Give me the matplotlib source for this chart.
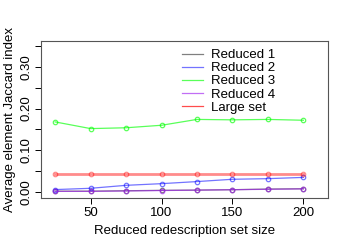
import numpy as np
import matplotlib
matplotlib.use("Agg")
import matplotlib.pyplot as plt

plt.rcParams['font.family'] = ['Liberation Sans', 'DejaVu Sans']

sizes = [25, 50, 75, 100, 125, 150, 175, 200]
reduced1 = [0.002, 0.002, 0.003, 0.004, 0.0045, 0.0055, 0.007, 0.0078]
reduced2 = [0.0058, 0.0089, 0.016, 0.020, 0.025, 0.0305, 0.032, 0.035]
reduced3 = [0.168, 0.152, 0.154, 0.160, 0.174, 0.173, 0.174, 0.172]
reduced4 = [0.0015, 0.0015, 0.0025, 0.0035, 0.0045, 0.0055, 0.0065, 0.0075]
large_set = [0.0425, 0.0425, 0.0425, 0.0425, 0.0425, 0.0425, 0.0425, 0.0425]

series = [
    ("Reduced 1", reduced1, (0, 0, 0, 0.5), 0.9),
    ("Reduced 2", reduced2, (0, 0, 1, 0.55), 0.9),
    ("Reduced 3", reduced3, (0, 1, 0, 0.65), 0.9),
    ("Reduced 4", reduced4, (0.63, 0.13, 0.94, 0.65), 0.9),
    ("Large set", large_set, (1, 0, 0, 0.45), 2.0),
]

fig = plt.figure(figsize=(3.49, 2.49), dpi=100)
ax = fig.add_axes([41/349, 1-198.3/249, (328.3-41)/349, (198.3-41)/249])

for name, vals, col, lw in series:
    ax.plot(sizes, vals, color=col, lw=lw, marker='o', ms=3.2,
            mfc='none', mec=col, mew=0.9, label=name)

ax.set_xlim(15, 217.6)
ax.set_ylim(-0.0151, 0.362)
ax.set_xticks([50, 100, 150, 200])
ax.set_yticks(np.arange(0, 0.351, 0.05))
ax.set_yticklabels(['0.00', '', '0.10', '', '0.20', '', '0.30', ''],
                   rotation=90, va='center')
ax.tick_params(direction='out', length=4.3, width=0.7, labelsize=9.5,
               colors='black', pad=2)
for s in ax.spines.values():
    s.set_linewidth(0.8)
    s.set_color('#555555')

ax.set_xlabel("Reduced redescription set size", fontsize=9.5, labelpad=4)
ax.set_ylabel("Average element Jaccard index", fontsize=9.5, labelpad=3)

leg = ax.legend(loc='upper left', bbox_to_anchor=(0.463, 1.0), frameon=False,
                fontsize=9.5, handlelength=1.6, handletextpad=0.6,
                labelspacing=0.07, borderaxespad=0.2)
for h, (name, vals, col, lw) in zip(leg.get_lines(), series):
    h.set_marker('')
    h.set_linewidth(0.9)
    if name == "Large set":
        h.set_color((1, 0, 0, 0.7))

fig.savefig("out.png", dpi=100)
